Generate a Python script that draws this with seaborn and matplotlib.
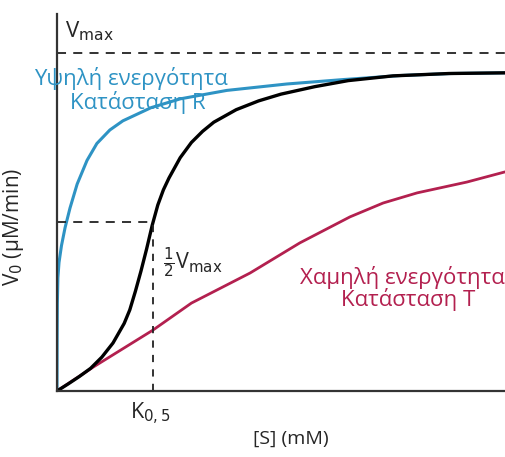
import matplotlib
matplotlib.use("Agg")
import matplotlib.pyplot as plt
import seaborn as sns

# substrate concentration (arbitrary units) and velocities (fraction of Vmax)
s_black = [0.0, 0.25, 0.5, 0.75, 1.0, 1.25, 1.5, 1.625, 1.75, 1.875, 2.0, 2.125, 2.25, 2.375,
           2.5, 2.75, 3.0, 3.25, 3.5, 4.0, 4.5, 5.0, 5.75, 6.5, 7.5, 8.75, 10.0]
v_black = [0.0, 0.021, 0.043, 0.067, 0.10, 0.142, 0.20, 0.24, 0.295, 0.355, 0.42, 0.49, 0.55, 0.595,
           0.63, 0.69, 0.735, 0.768, 0.795, 0.832, 0.858, 0.878, 0.900, 0.918, 0.932, 0.939, 0.941]

s_blue = [0.0, 0.003, 0.008, 0.02, 0.045, 0.1, 0.18, 0.29, 0.45, 0.67, 0.89, 1.18, 1.47,
          2.1, 2.75, 3.79, 5.13, 6.38, 7.66, 8.8, 10.0]
v_blue = [0.0, 0.15, 0.26, 0.335, 0.38, 0.43, 0.483, 0.541, 0.612, 0.682, 0.732, 0.772, 0.799,
          0.838, 0.864, 0.889, 0.908, 0.921, 0.933, 0.939, 0.941]

s_red = [0.0, 0.8, 2.14, 3.0, 4.31, 5.42, 6.54, 7.28, 8.04, 9.15, 10.0]
v_red = [0.0, 0.07, 0.18, 0.26, 0.349, 0.438, 0.515, 0.556, 0.586, 0.618, 0.648]

vmax = 1.0
k05 = 2.14

sns.set_style("white")
plt.rcParams['font.family'] = ['Open Sans', 'DejaVu Sans']

fig = plt.figure(figsize=(5.05, 4.57), dpi=100)
ax = fig.add_axes([57/505, 66/457, 448/505, 377/457])

blue_c = "#2e93c4"
red_c = "#b3204f"

sns.lineplot(x=s_blue, y=v_blue, ax=ax, color=blue_c, linewidth=2.2, sort=False)
sns.lineplot(x=s_red, y=v_red, ax=ax, color=red_c, linewidth=2.0, sort=False)
sns.lineplot(x=s_black, y=v_black, ax=ax, color="black", linewidth=2.4, sort=False)
for ln in ax.lines:
    ln.set_solid_joinstyle("round")
    ln.set_solid_capstyle("round")

ax.axhline(vmax, color="#222222", linestyle=(0, (5, 4)), linewidth=1.3)
ax.plot([0, k05], [0.5 * vmax, 0.5 * vmax], color="#222222", linestyle=(0, (5, 4)), linewidth=1.3)
ax.plot([k05, k05], [0, 0.5 * vmax], color="#222222", linestyle=(0, (4, 4)), linewidth=1.3)

ax.set_xlim(0, 10)
ax.set_ylim(0, 1.115)
ax.set_xticks([])
ax.set_yticks([])
for side in ["top", "right"]:
    ax.spines[side].set_visible(False)
for side in ["left", "bottom"]:
    ax.spines[side].set_color("#333333")
    ax.spines[side].set_linewidth(1.6)

ax.set_ylabel(r"V$_0$ (μM/min)", fontsize=15)
ax.yaxis.set_label_coords(-0.069, 0.435)
ax.set_xlabel("[S] (mM)", fontsize=14)
ax.xaxis.set_label_coords(0.523, -0.103)

ax.text(0.18, 1.03, r"V$_{\mathrm{max}}$", fontsize=16, ha="left", va="bottom")
ax.text(k05 + 0.22, 0.38, r"$\frac{1}{2}$V$_{\mathrm{max}}$", fontsize=15.5, ha="left", va="center")
ax.text(k05 - 0.05, -0.03, r"K$_{0,5}$", fontsize=15.5, ha="center", va="top")

ax.text(1.65, 0.925, "Υψηλή ενεργότητα", fontsize=16, color=blue_c, ha="center", va="center")
ax.text(1.81, 0.853, "Κατάσταση R", fontsize=16, color=blue_c, ha="center", va="center")
ax.text(7.7, 0.335, "Χαμηλή ενεργότητα", fontsize=16, color=red_c, ha="center", va="center")
ax.text(7.83, 0.27, "Κατάσταση T", fontsize=16, color=red_c, ha="center", va="center")

for t in ax.texts:
    t.set_clip_on(False)

fig.savefig("out.png", dpi=100)
